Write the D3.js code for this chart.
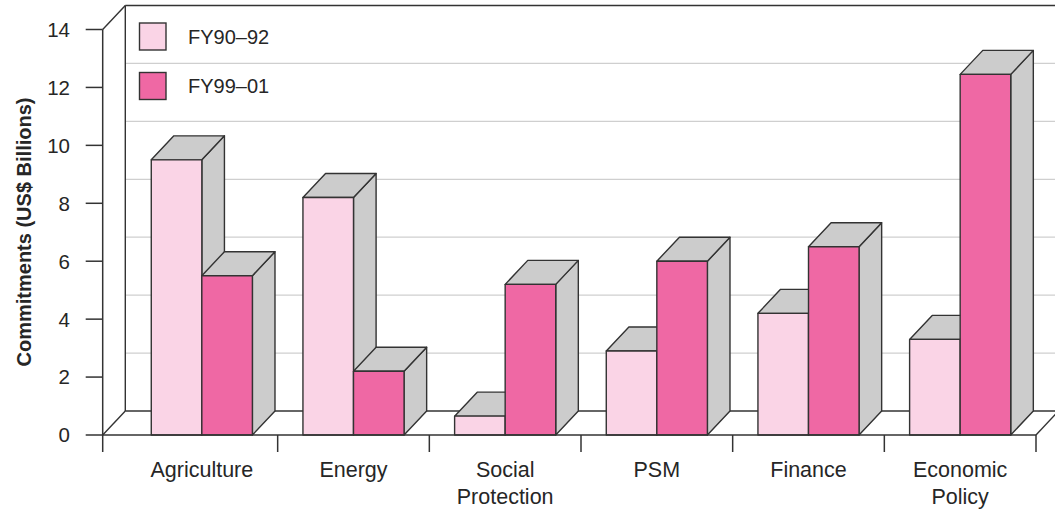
<!DOCTYPE html>
<html>
<head>
<meta charset="utf-8">
<script src="https://cdn.jsdelivr.net/npm/d3@7"></script>
<style>
  html, body { margin: 0; padding: 0; background: #fff; }
  svg { display: block; }
  text { font-family: "Liberation Sans", Arial, sans-serif; fill: #262626; }
</style>
</head>
<body>
<svg id="chart" width="1055" height="510"></svg>
<script>
// ---- data ----
const categories = ["Agriculture", "Energy", "Social\nProtection", "PSM", "Finance", "Economic\nPolicy"];
const seriesNames = ["FY90–92", "FY99–01"];
const fy90_92 = [9.5, 8.2, 0.65, 2.9, 4.2, 3.3];
const fy99_01 = [5.5, 2.2, 5.2, 6.0, 6.5, 12.45];
const yTicks = [0, 2, 4, 6, 8, 10, 12, 14];
const yTitle = "Commitments (US$ Billions)";

// ---- styling / layout ----
const colors = ["#fad4e6", "#ef68a4"];
const sideColor = "#cccccc";
const edge = "#333333";
const gridColor = "#cfcfcf";
const DX = 22.6, DY = 24;     // depth offset
const axisX = 102.7;           // front y-axis
const y0 = 435;                // front floor line

const svg = d3.select("#chart");
const y = d3.scaleLinear().domain([0, 14]).range([y0, 29.5]);
const x0 = d3.scaleBand().domain(categories).range([126, 1036]).padding(0);
const x1 = d3.scaleBand().domain(seriesNames).range([0, x0.bandwidth()]).paddingInner(0).paddingOuter(0.5);

const seriesData = [fy90_92, fy99_01];

// back wall gridlines
svg.append("g").selectAll("line").data(yTicks.filter(d => d > 0 && d < 14)).join("line")
  .attr("x1", axisX + DX).attr("x2", 1055)
  .attr("y1", d => y(d) - DY).attr("y2", d => y(d) - DY)
  .attr("stroke", gridColor).attr("stroke-width", 1.3);

const frame = svg.append("g").attr("stroke", edge).attr("stroke-width", 1.4).attr("fill", "none");
// back wall top and left edge
frame.append("line").attr("x1", axisX + DX).attr("x2", 1055).attr("y1", y(14) - DY).attr("y2", y(14) - DY);
frame.append("line").attr("x1", axisX + DX).attr("x2", axisX + DX).attr("y1", y(14) - DY).attr("y2", y(0) - DY);
// left wall top diagonal
frame.append("line").attr("x1", axisX).attr("y1", y(14)).attr("x2", axisX + DX).attr("y2", y(14) - DY);
// floor
frame.append("line").attr("x1", axisX + DX).attr("x2", 1055).attr("y1", y(0) - DY).attr("y2", y(0) - DY);
frame.append("line").attr("x1", axisX).attr("y1", y(0)).attr("x2", axisX + DX).attr("y2", y(0) - DY);
const xEnd = x0.range()[1];
frame.append("line").attr("x1", xEnd).attr("y1", y(0)).attr("x2", xEnd + DX).attr("y2", y(0) - DY);

// bars
const barsG = svg.append("g");
categories.forEach((c, i) => {
  seriesNames.forEach((s, j) => {
    const v = seriesData[j][i];
    const xa = x0(c) + x1(s), xb = xa + x1.bandwidth();
    const yt = y(v), yb = y(0);
    const g = barsG.append("g").attr("stroke", edge).attr("stroke-width", 1.4).attr("stroke-linejoin", "round");
    // side
    g.append("path").attr("fill", sideColor)
      .attr("d", `M${xb},${yt}L${xb + DX},${yt - DY}L${xb + DX},${yb - DY}L${xb},${yb}Z`);
    // top
    g.append("path").attr("fill", sideColor)
      .attr("d", `M${xa},${yt}L${xa + DX},${yt - DY}L${xb + DX},${yt - DY}L${xb},${yt}Z`);
    // front
    g.append("rect").attr("x", xa).attr("y", yt).attr("width", xb - xa).attr("height", yb - yt)
      .attr("fill", colors[j]);
  });
});

// front floor line + front y axis
const ax = svg.append("g").attr("stroke", edge).attr("stroke-width", 1.5);
ax.append("line").attr("x1", axisX).attr("x2", xEnd).attr("y1", y0).attr("y2", y0);
ax.append("line").attr("x1", axisX).attr("x2", axisX).attr("y1", y(14)).attr("y2", y0 + 17);
// x ticks at band boundaries
ax.selectAll(".xt").data(categories).join("line").attr("class", "xt")
  .attr("x1", d => x0(d) + x0.bandwidth()).attr("x2", d => x0(d) + x0.bandwidth())
  .attr("y1", y0).attr("y2", y0 + 17);
// y ticks
ax.selectAll(".yt").data(yTicks).join("line").attr("class", "yt")
  .attr("x1", axisX - 17).attr("x2", axisX).attr("y1", d => y(d)).attr("y2", d => y(d));

// y tick labels
svg.append("g").selectAll("text").data(yTicks).join("text")
  .attr("x", 70).attr("y", d => y(d)).attr("dy", "0.36em")
  .attr("text-anchor", "end").style("font-size", "20.5px")
  .text(d => d);

// y title
svg.append("text")
  .attr("transform", `translate(31,232) rotate(-90)`)
  .attr("text-anchor", "middle")
  .style("font-size", "20px").style("font-weight", "bold")
  .text(yTitle);

// category labels
const catG = svg.append("g");
categories.forEach(c => {
  const lines = c.split("\n");
  const t = catG.append("text").attr("text-anchor", "middle")
    .attr("x", x0(c) + x0.bandwidth() / 2).attr("y", 477).style("font-size", "21.5px");
  lines.forEach((l, k) => {
    t.append("tspan").attr("x", x0(c) + x0.bandwidth() / 2).attr("dy", k === 0 ? 0 : 26.5).text(l);
  });
});

// legend
const lg = svg.append("g");
seriesNames.forEach((s, j) => {
  const ly = 23 + j * 49.5;
  lg.append("rect").attr("x", 139.5).attr("y", ly).attr("width", 26.5).attr("height", 27)
    .attr("fill", colors[j]).attr("stroke", edge).attr("stroke-width", 1.4);
  lg.append("text").attr("x", 188).attr("y", ly + 13.5).attr("dy", "0.36em")
    .style("font-size", "20px").text(s);
});
</script>
</body>
</html>
